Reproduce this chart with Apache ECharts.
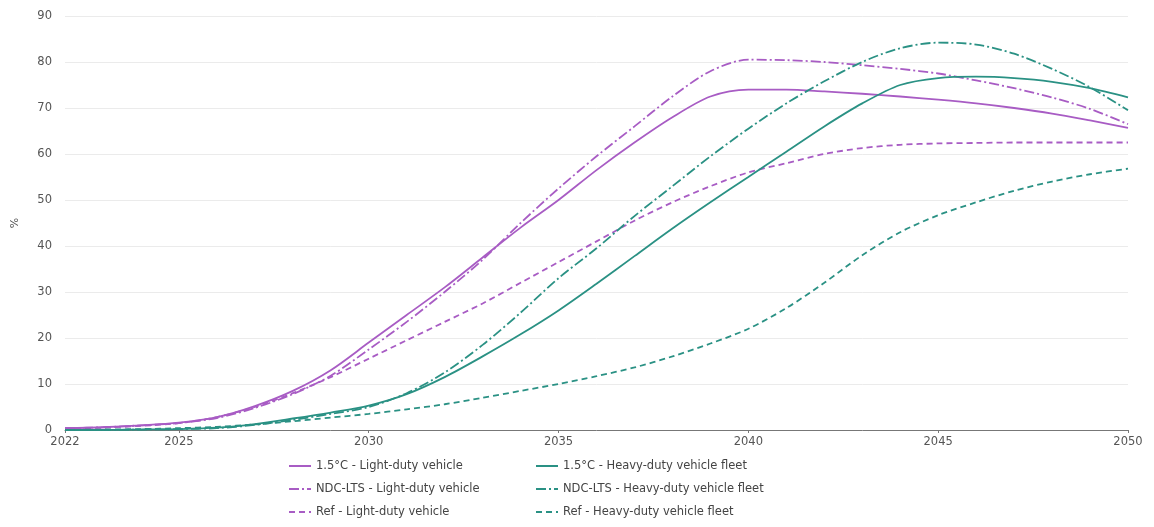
<!DOCTYPE html>
<html>
<head>
<meta charset="utf-8">
<script src="https://cdn.jsdelivr.net/npm/echarts@6/dist/echarts.min.js"></script>
<style>
html,body{margin:0;padding:0;background:#fff;}
#chart{width:1154px;height:527px;}
</style>
</head>
<body>
<div id="chart"></div>
<script>
const years = ['2022','2023','2024','2025','2026','2027','2028','2029','2030','2031','2032','2033','2034','2035','2036','2037','2038','2039','2040','2041','2042','2043','2044','2045','2046','2047','2048','2049','2050'];
const yTicks = [0,10,20,30,40,50,60,70,80,90];

const ldv15  = [0.4,0.6,1.0,1.6,2.8,5.2,8.5,13.0,19.0, 25.0,31.0,37.5,44.0,50.0, 56.5,62.5,68.0,72.5,74.0, 74.0,73.6,73.1,72.5,71.8, 71.0,70.0,68.8,67.3,65.7];
const ldvNdc = [0.4,0.6,1.0,1.5,2.6,4.8,7.8,11.8,17.5, 23.5,30.0,37.0,45.0,52.5, 59.5,66.0,72.5,78.0,80.5, 80.4,80.0,79.3,78.5,77.5, 76.0,74.3,72.3,69.8,66.5];
const ldvRef = [0.3,0.5,0.9,1.5,2.8,5.0,8.0,11.5,15.5, 19.5,23.5,27.5,32.0,36.5, 41.0,45.5,49.5,53.0,56.0, 58.0,60.0,61.3,62.0,62.3, 62.4,62.5,62.5,62.5,62.5];
const hdv15  = [0.0,0.0,0.1,0.2,0.5,1.3,2.5,3.8,5.3, 7.8,11.5,16.0,20.8,26.0, 31.8,37.8,43.8,49.5,55.0, 60.5,66.0,71.0,75.0,76.5, 76.8,76.5,75.7,74.3,72.3];
const hdvNdc = [0.0,0.0,0.1,0.2,0.4,1.1,2.2,3.5,5.0, 8.0,12.5,18.5,25.5,33.0, 39.5,46.5,53.0,59.5,65.5, 71.0,75.8,80.0,83.0,84.2, 83.8,81.8,78.5,74.5,69.5];
const hdvRef = [0.0,0.1,0.2,0.4,0.7,1.2,1.9,2.7,3.5, 4.5,5.6,7.0,8.5,10.0, 11.7,13.6,16.0,18.8,22.0, 26.5,32.0,38.0,43.0,46.7, 49.5,52.0,54.0,55.6,56.8];

const names = {
  ldv15: '1.5°C - Light-duty vehicle',
  ldvNdc: 'NDC-LTS - Light-duty vehicle',
  ldvRef: 'Ref - Light-duty vehicle',
  hdv15: '1.5°C - Heavy-duty vehicle fleet',
  hdvNdc: 'NDC-LTS - Heavy-duty vehicle fleet',
  hdvRef: 'Ref - Heavy-duty vehicle fleet'
};

const PURPLE = '#a85cc4';
const TEAL = '#2a9184';
const DASH = [6, 4];
const DASHDOT = [10, 3, 2, 3];

function line(name, data, color, type) {
  return {
    name: name, type: 'line', data: data, smooth: 0.3,
    symbol: 'none', showSymbol: false,
    lineStyle: { color: color, width: 1.8, type: type },
    itemStyle: { color: color }
  };
}

const FONT = 'DejaVu Sans';
const legendBase = {
  orient: 'vertical', top: 455, itemGap: 11, itemWidth: 22, itemHeight: 12,
  itemStyle: { opacity: 0 },
  textStyle: { fontFamily: FONT, fontSize: 11.5, color: '#444' }
};

const chart = echarts.init(document.getElementById('chart'), null, { renderer: 'canvas' });
chart.setOption({
  animation: false,
  backgroundColor: '#fff',
  textStyle: { fontFamily: FONT },
  grid: { left: 65, right: 26, top: 16, bottom: 97, containLabel: false },
  legend: [
    Object.assign({}, legendBase, { left: 283, data: [names.ldv15, names.ldvNdc, names.ldvRef] }),
    Object.assign({}, legendBase, { left: 530, data: [names.hdv15, names.hdvNdc, names.hdvRef] })
  ],
  xAxis: {
    type: 'category', data: years, boundaryGap: false,
    axisLine: { show: true, lineStyle: { color: '#777', width: 1 } },
    axisTick: { show: true, length: 3, lineStyle: { color: '#777' },
      interval: function (i, v) { return v === '2022' || (+v) % 5 === 0; } },
    axisLabel: { color: '#555', fontSize: 11.5, fontFamily: FONT, margin: 6,
      interval: function (i, v) { return v === '2022' || (+v) % 5 === 0; } },
    splitLine: { show: false }
  },
  yAxis: {
    type: 'value', min: yTicks[0], max: yTicks[yTicks.length - 1], interval: 10,
    name: '%', nameLocation: 'middle', nameGap: 44, nameRotate: 90,
    nameTextStyle: { color: '#555', fontSize: 11, fontFamily: FONT },
    axisLine: { show: false }, axisTick: { show: false },
    axisLabel: { color: '#555', fontSize: 11.5, fontFamily: FONT, margin: 13 },
    splitLine: { lineStyle: { color: '#ebebeb', width: 1 } }
  },
  series: [
    line(names.ldv15, ldv15, PURPLE, 'solid'),
    line(names.ldvNdc, ldvNdc, PURPLE, DASHDOT),
    line(names.ldvRef, ldvRef, PURPLE, DASH),
    line(names.hdv15, hdv15, TEAL, 'solid'),
    line(names.hdvNdc, hdvNdc, TEAL, DASHDOT),
    line(names.hdvRef, hdvRef, TEAL, DASH)
  ]
});
</script>
</body>
</html>
